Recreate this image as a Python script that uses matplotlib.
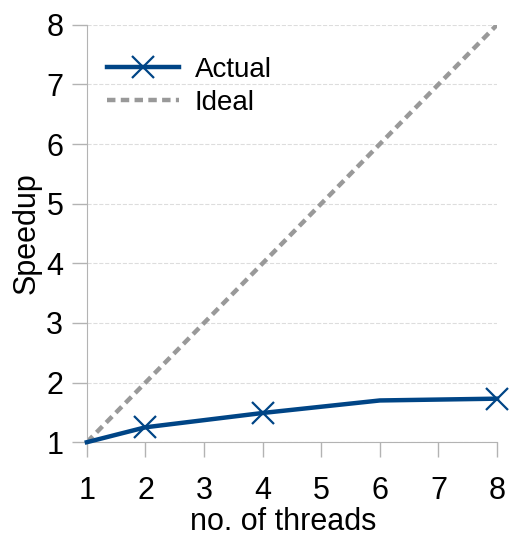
import numpy as np
import matplotlib.pyplot as plt

plt.rcParams['font.family'] = ['Liberation Sans', 'DejaVu Sans']

# data
threads = [1, 2, 4, 6, 8]
actual = [1.0, 1.25, 1.49, 1.70, 1.73]
ideal_x = [1, 8]
ideal_y = [1, 8]

fig = plt.figure(figsize=(5.14, 5.5), dpi=100)
ax = fig.add_axes([0.169, 0.196, 0.798, 0.759])

ax.plot(ideal_x, ideal_y, color='#999999', lw=3.2, dashes=(1.9, 1.2), label='Ideal', zorder=2)
ax.plot(threads, actual, color='#004586', lw=3.2, marker='x', markersize=16, mew=1.6,
        markevery=[1, 2, 4], label='Actual', zorder=3, clip_on=False)

ax.set_xlim(1, 8)
ax.set_ylim(1, 8)
ax.set_xticks(range(1, 9))
ax.set_yticks(range(1, 9))
ax.grid(axis='y', color='#dddddd', ls='--', lw=0.8)
ax.set_axisbelow(True)
for s in ['top', 'right']:
    ax.spines[s].set_visible(False)
for s in ['left', 'bottom']:
    ax.spines[s].set_color('#b3b3b3')
ax.tick_params(colors='#b3b3b3', labelcolor='black', labelsize=22, length=11, width=1)
ax.tick_params(axis='x', pad=13)
ax.tick_params(axis='y', pad=6)
ax.set_xlabel('no. of threads', fontsize=22, labelpad=1, x=0.478)
ax.set_ylabel('Speedup', fontsize=22, labelpad=3)

h, l = ax.get_legend_handles_labels()
ax.legend(h[::-1], l[::-1], loc='upper left', frameon=False, fontsize=20,
          handlelength=2.6, handletextpad=0.55, labelspacing=0.25,
          borderaxespad=0, bbox_to_anchor=(0.022, 0.95))

plt.savefig('out.png')
